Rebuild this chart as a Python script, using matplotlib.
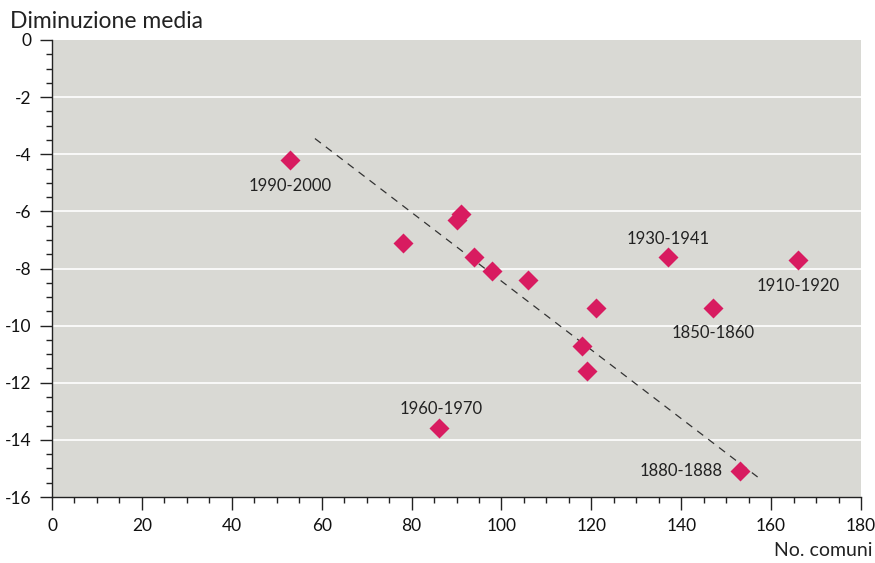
import numpy as np
import matplotlib.pyplot as plt
from matplotlib.ticker import MultipleLocator

# points: number of municipalities vs mean decrease
comuni = [53, 78, 90, 91, 94, 98, 106, 121, 118, 119, 137, 147, 166, 86, 153]
diminuzione = [-4.2, -7.1, -6.3, -6.1, -7.6, -8.1, -8.4, -9.4, -10.7, -11.6,
               -7.6, -9.4, -7.7, -13.6, -15.1]

# labelled decades
lab_text = ['1990-2000', '1930-1941', '1910-1920', '1850-1860', '1960-1970', '1880-1888']
lab_x = [53, 137, 166, 147, 86, 153]
lab_y = [-4.2, -7.6, -7.7, -9.4, -13.6, -15.1]

# trend line ends
trend_x = [58.5, 157]
trend_y = [-3.45, -15.3]

plt.rcParams['font.family'] = ['Lato', 'DejaVu Sans']
plt.rcParams['axes.unicode_minus'] = False

fig = plt.figure(figsize=(8.75, 5.63), dpi=100)
ax = fig.add_axes([52 / 875, 1 - 497 / 563, (861 - 52) / 875, (497 - 40) / 563])
ax.set_facecolor('#d9d9d4')

ax.set_xlim(0, 180)
ax.set_ylim(-16, 0)
for yv in range(-14, 0, 2):
    ax.axhline(yv, color='white', lw=1.2, zorder=1)

ax.plot(trend_x, trend_y, color='#333333', lw=0.9, ls=(0, (6, 5)), zorder=2)
ax.plot(comuni, diminuzione, 'D', color='#d81b60', ms=10, mec='none', zorder=3)

# label placements relative to the point
offsets = {
    '1990-2000': (0, -13, 'center', 'top'),
    '1930-1941': (0, 7, 'center', 'bottom'),
    '1910-1920': (0, -13, 'center', 'top'),
    '1850-1860': (0, -12, 'center', 'top'),
    '1960-1970': (2, 8, 'center', 'bottom'),
    '1880-1888': (-12, 0, 'right', 'center'),
}
for t, x, y in zip(lab_text, lab_x, lab_y):
    dx, dy, ha, va = offsets[t]
    ax.annotate(t, (x, y), xytext=(dx, dy), textcoords='offset points',
                ha=ha, va=va, fontsize=12, color='#222222')

ax.xaxis.set_major_locator(MultipleLocator(20))
ax.xaxis.set_minor_locator(MultipleLocator(5))
ax.yaxis.set_major_locator(MultipleLocator(2))
ax.yaxis.set_minor_locator(MultipleLocator(0.5))
ax.tick_params(which='major', length=9, width=1, color='#222222', labelsize=12.5,
               labelcolor='#111111', pad=6)
ax.tick_params(which='minor', length=4.5, width=1, color='#222222')

for s in ['top', 'right']:
    ax.spines[s].set_visible(False)
for s in ['left', 'bottom']:
    ax.spines[s].set_color('#222222')
    ax.spines[s].set_linewidth(1)

fig.text(10 / 875, 1 - 21 / 563, 'Diminuzione media', ha='left', va='center',
         fontsize=16.5, color='#222222')
fig.text(873 / 875, 1 - 551 / 563, 'No. comuni', ha='right', va='center',
         fontsize=14, color='#222222')

fig.savefig('out.png', dpi=100)
